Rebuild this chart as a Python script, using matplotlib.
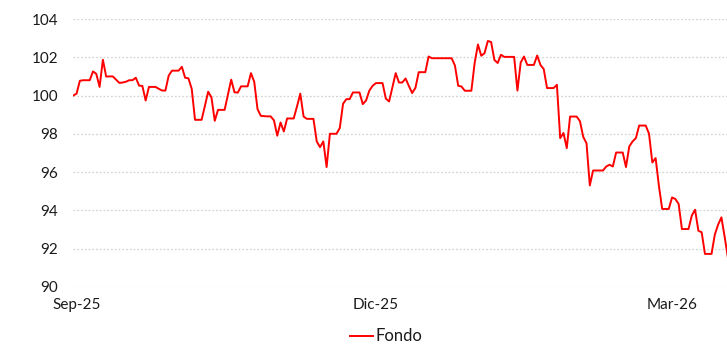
import pandas as pd
import matplotlib
matplotlib.use('Agg')
import matplotlib.pyplot as plt

plt.rcParams['font.family'] = ['Lato', 'DejaVu Sans']

#
# daily fund values, one per calendar day starting on start_date
#
start_date = '2025-08-31'
fondo = [
    100.0, 100.1, 100.77, 100.8, 100.8, 100.8, 101.26, 101.13, 100.45, 101.87,
    100.99, 101.0, 101.0, 100.83, 100.66, 100.68, 100.72, 100.8, 100.8, 100.93,
    100.52, 100.5, 99.74, 100.45, 100.45, 100.45, 100.35, 100.26, 100.26, 101.04,
    101.3, 101.3, 101.3, 101.5, 100.93, 100.9, 100.35, 98.73, 98.73, 98.73,
    99.45, 100.2, 99.9, 98.68, 99.25, 99.25, 99.25, 100.04, 100.83, 100.17,
    100.15, 100.48, 100.48, 100.48, 101.17, 100.72, 99.29, 98.94, 98.92, 98.91,
    98.91, 98.7, 97.9, 98.59, 98.12, 98.8, 98.8, 98.8, 99.43, 100.1,
    98.9, 98.78, 98.78, 98.78, 97.6, 97.3, 97.6, 96.26, 98.0, 98.0,
    98.0, 98.3, 99.57, 99.81, 99.81, 100.16, 100.16, 100.16, 99.55, 99.74,
    100.26, 100.51, 100.65, 100.65, 100.65, 99.84, 99.69, 100.43, 101.17, 100.68,
    100.68, 100.89, 100.5, 100.13, 100.4, 101.22, 101.22, 101.22, 102.04, 101.95,
    101.95, 101.95, 101.95, 101.95, 101.95, 101.95, 101.57, 100.51, 100.47, 100.25,
    100.25, 100.25, 101.7, 102.67, 102.08, 102.21, 102.85, 102.8, 101.86, 101.7,
    102.13, 102.02, 102.02, 102.02, 102.02, 100.26, 101.73, 102.04, 101.6, 101.6,
    101.6, 102.09, 101.6, 101.38, 100.39, 100.39, 100.39, 100.56, 97.77, 98.04,
    97.25, 98.9, 98.9, 98.9, 98.66, 97.84, 97.5, 95.3, 96.08, 96.08,
    96.08, 96.08, 96.29, 96.38, 96.29, 97.02, 97.02, 97.02, 96.26, 97.34,
    97.6, 97.77, 98.43, 98.43, 98.43, 98.0, 96.5, 96.73, 95.28, 94.07,
    94.07, 94.07, 94.67, 94.59, 94.33, 93.02, 93.02, 93.02, 93.72, 94.03,
    92.93, 92.85, 91.72, 91.72, 91.72, 92.73, 93.25, 93.63, 92.6, 91.5,
]

tick_dates = ['2025-09-01', '2025-12-01', '2026-03-01']
tick_labels = ['Sep-25', 'Dic-25', 'Mar-26']
y_ticks = [90, 92, 94, 96, 98, 100, 102, 104]

dates = pd.date_range(start_date, periods=len(fondo), freq='D')

fig = plt.figure(figsize=(7.27, 3.45), dpi=100)
ax = fig.add_axes([0.1008, 0.1687, 0.8992, 0.7762])

ax.plot(dates, fondo, color='#ff0000', linewidth=1.4, label='Fondo')

ax.set_ylim(90, 104)
ax.set_xlim(dates[0], dates[0] + pd.Timedelta(days=198.7))
ax.set_yticks(y_ticks)
ax.set_xticks(pd.to_datetime(tick_dates))
ax.set_xticklabels(tick_labels)

# dotted horizontal gridlines only, no frame
ax.grid(True, axis='y', color='#d4d4d4', linestyle=(0, (1.5, 1.5)), linewidth=0.9)
ax.set_axisbelow(True)
for side in ['top', 'right', 'bottom', 'left']:
    ax.spines[side].set_visible(False)
ax.tick_params(axis='both', length=0, labelsize=11, colors='#1a1a1a')
ax.tick_params(axis='y', pad=11)
ax.tick_params(axis='x', pad=8)

fig.legend(loc='center', bbox_to_anchor=(0.531, 0.025), frameon=False,
           fontsize=12, handlelength=1.4, handletextpad=0.1, labelcolor='#1a1a1a')

fig.savefig('out.png', dpi=100)
